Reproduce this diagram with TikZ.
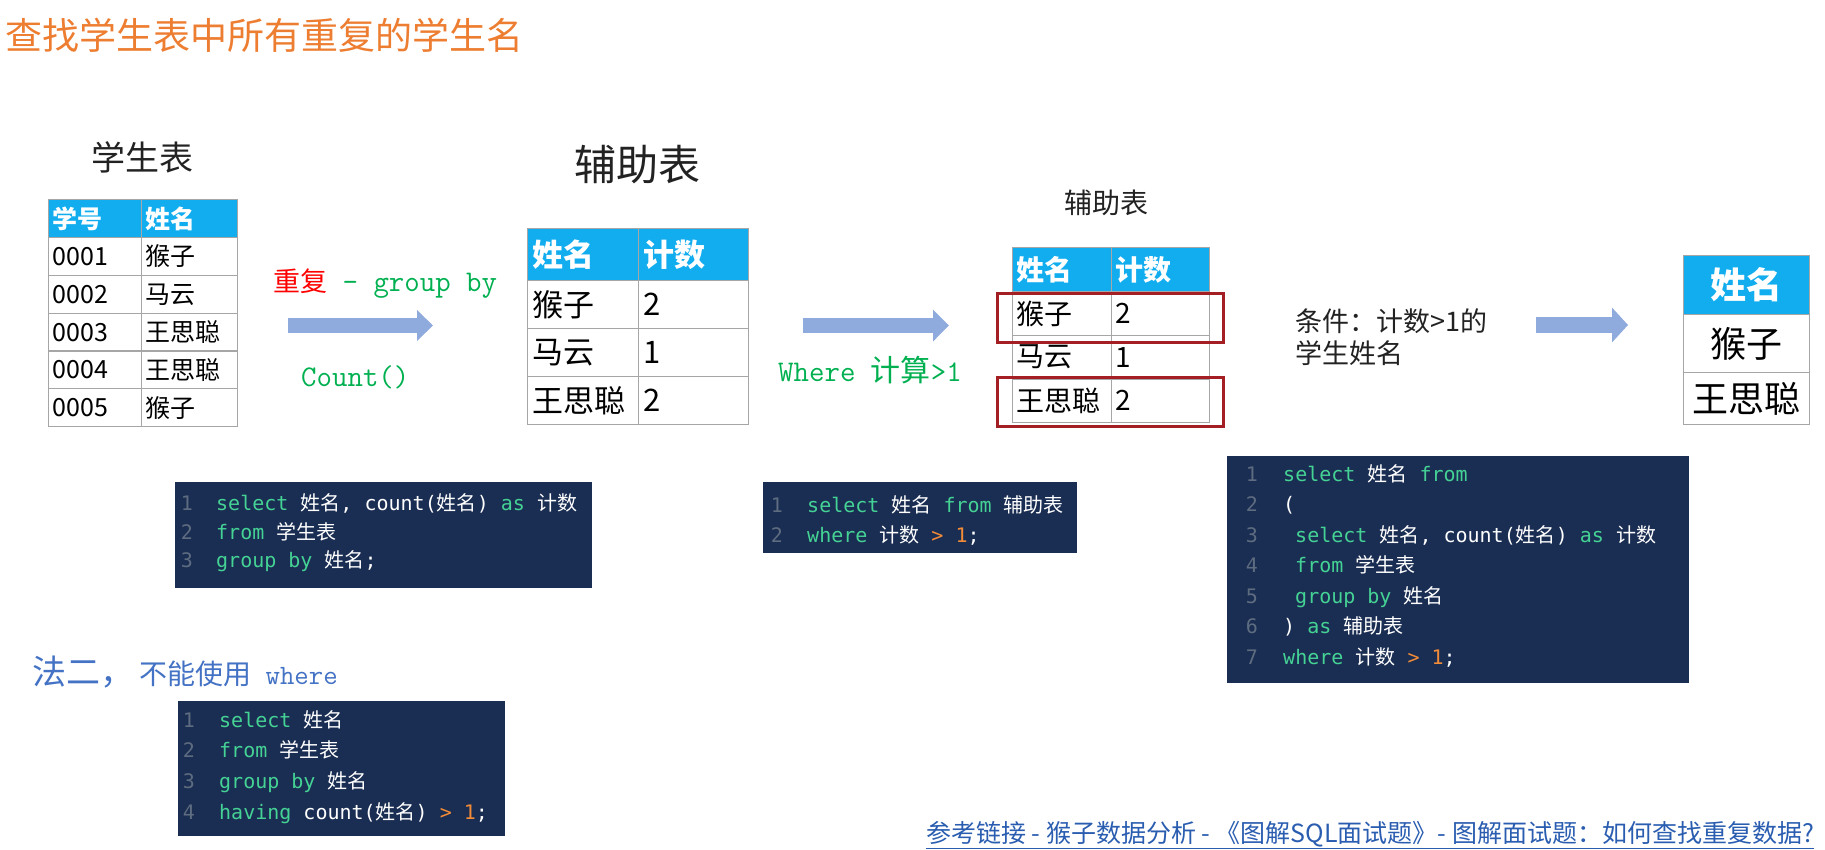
\documentclass[tikz,border=0pt]{standalone}
\usepackage{fontspec}
\setmainfont{Noto Sans CJK SC}
\newfontfamily\cjk{Noto Sans CJK SC}
\newfontfamily\codefont{DejaVu Sans Mono}
\usetikzlibrary{arrows.meta}
\definecolor{titleorange}{HTML}{ED7D31}
\definecolor{hdrblue}{HTML}{11ADEF}
\definecolor{gridgray}{HTML}{A6A6A6}
\definecolor{arrowblue}{HTML}{8FAADC}
\definecolor{hired}{HTML}{A31F24}
\definecolor{codebg}{HTML}{1A2D52}
\definecolor{kwgreen}{HTML}{45D295}
\definecolor{lngray}{HTML}{5E6C80}
\definecolor{oporange}{HTML}{F28C38}
\definecolor{labgreen}{HTML}{00B050}
\definecolor{labred}{HTML}{FF0000}
\definecolor{methblue}{HTML}{4472C4}
\definecolor{linkblue}{HTML}{2A5DB0}
\definecolor{darktext}{HTML}{222222}
\newcommand\fsz[1]{\fontsize{#1}{#1}\selectfont}
\newcommand\kw[1]{\textcolor{kwgreen}{#1}}
\newcommand\cj[1]{{\cjk #1}}
\newcommand\op[1]{\textcolor{oporange}{#1}}
\tikzset{
  hcell/.style={draw=gridgray, line width=1.2pt, fill=hdrblue, text=white, anchor=north west, inner ysep=0pt, align=left},
  bcell/.style={draw=gridgray, line width=1.2pt, fill=white, text=black, anchor=north west, inner ysep=0pt, align=left},
  hilite/.style={draw=hired, line width=2.5pt, anchor=north west, inner sep=0pt},
  flow/.style={draw=arrowblue, line width=15pt, -{Triangle[length=16pt,width=31pt]}},
  codebox/.style={fill=codebg, anchor=north west, inner sep=0pt},
  lnum/.style={text=lngray, anchor=base, inner sep=0pt, font={\codefont\fsz{20}}},
  cline/.style={text=white, anchor=base west, inner sep=0pt, font={\codefont\fsz{20}}},
  tabtitle/.style={text=darktext, anchor=base, inner sep=0pt},
  lab/.style={anchor=base west, inner sep=0pt}
}
\begin{document}
\begin{tikzpicture}[x=1pt,y=-1pt]
\useasboundingbox (0,0) rectangle (1825,849);

% title
\node[lab, text=titleorange, font=\fsz{37}] (title) at (5,49) {查找学生表中所有重复的学生名};

% ---------- table 1 ----------
\node[tabtitle, font=\fsz{34}] (t1title) at (142,170) {学生表};
\begin{scope}[font=\fsz{25}]
\node[hcell, inner xsep=4pt, text width=85pt, minimum height=38pt] (t1h1) at (48,199) {\textbf{学号}};
\node[hcell, inner xsep=4pt, text width=88pt, minimum height=38pt] (t1h2) at (141,199) {\textbf{姓名}};
\node[bcell, inner xsep=4pt, text width=85pt, minimum height=37.8pt] (t1a1) at (48,237) {0001};
\node[bcell, inner xsep=4pt, text width=88pt, minimum height=37.8pt] (t1b1) at (141,237) {猴子};
\node[bcell, inner xsep=4pt, text width=85pt, minimum height=37.8pt] (t1a2) at (48,274.8) {0002};
\node[bcell, inner xsep=4pt, text width=88pt, minimum height=37.8pt] (t1b2) at (141,274.8) {马云};
\node[bcell, inner xsep=4pt, text width=85pt, minimum height=37.8pt] (t1a3) at (48,312.6) {0003};
\node[bcell, inner xsep=4pt, text width=88pt, minimum height=37.8pt] (t1b3) at (141,312.6) {王思聪};
\node[bcell, inner xsep=4pt, text width=85pt, minimum height=37.8pt] (t1a4) at (48,350.4) {0004};
\node[bcell, inner xsep=4pt, text width=88pt, minimum height=37.8pt] (t1b4) at (141,350.4) {王思聪};
\node[bcell, inner xsep=4pt, text width=85pt, minimum height=37.8pt] (t1a5) at (48,388.2) {0005};
\node[bcell, inner xsep=4pt, text width=88pt, minimum height=37.8pt] (t1b5) at (141,388.2) {猴子};
\end{scope}

% arrow 1 and labels
\coordinate (a1s) at (288,325.5);
\coordinate (a1e) at (433,325.5);
\draw[flow, -{Triangle[length=16pt,width=30pt]}] (a1s) -- (a1e);
\node[lab] (lab1) at (273,291) {\textcolor{labred}{\fsz{27}重复}\textcolor{labgreen}{\ttfamily\fsz{30} - group by}};
\node[lab, text=labgreen, font=\ttfamily\fsz{30}] (lab2) at (301,386) {Count()};

% ---------- table 2 ----------
\node[tabtitle, font=\fsz{42}] (t2title) at (637,180) {辅助表};
\begin{scope}[font=\fsz{31}]
\node[hcell, inner xsep=5pt, text width=101pt, minimum height=52pt] (t2h1) at (527,228) {\textbf{姓名}};
\node[hcell, inner xsep=5pt, text width=100pt, minimum height=52pt] (t2h2) at (638,228) {\textbf{计数}};
\node[bcell, inner xsep=5pt, text width=101pt, minimum height=48pt] (t2a1) at (527,280) {猴子};
\node[bcell, inner xsep=5pt, text width=100pt, minimum height=48pt] (t2b1) at (638,280) {2};
\node[bcell, inner xsep=5pt, text width=101pt, minimum height=48pt] (t2a2) at (527,328) {马云};
\node[bcell, inner xsep=5pt, text width=100pt, minimum height=48pt] (t2b2) at (638,328) {1};
\node[bcell, inner xsep=5pt, text width=101pt, minimum height=48pt] (t2a3) at (527,376) {王思聪};
\node[bcell, inner xsep=5pt, text width=100pt, minimum height=48pt] (t2b3) at (638,376) {2};
\end{scope}

% arrow 2 and label
\coordinate (a2s) at (803,325.5);
\coordinate (a2e) at (949,325.5);
\draw[flow] (a2s) -- (a2e);
\node[lab, text=labgreen] (lab3) at (778,381) {{\ttfamily\fsz{30}Where }{\fsz{30}计算}{\ttfamily\fsz{30}>1}};

% ---------- table 3 ----------
\node[tabtitle, font=\fsz{28}] (t3title) at (1106,213) {辅助表};
\begin{scope}[font=\fsz{28}]
\node[hcell, inner xsep=3.5pt, text width=92pt, minimum height=44pt] (t3h1) at (1012,247) {\textbf{姓名}};
\node[hcell, inner xsep=3.5pt, text width=91pt, minimum height=44pt] (t3h2) at (1111,247) {\textbf{计数}};
\node[bcell, inner xsep=3.5pt, text width=92pt, minimum height=43.7pt] (t3a1) at (1012,291) {猴子};
\node[bcell, inner xsep=3.5pt, text width=91pt, minimum height=43.7pt] (t3b1) at (1111,291) {2};
\node[bcell, inner xsep=3.5pt, text width=92pt, minimum height=43.7pt] (t3a2) at (1012,334.7) {马云};
\node[bcell, inner xsep=3.5pt, text width=91pt, minimum height=43.7pt] (t3b2) at (1111,334.7) {1};
\node[bcell, inner xsep=3.5pt, text width=92pt, minimum height=43.7pt] (t3a3) at (1012,378.3) {王思聪};
\node[bcell, inner xsep=3.5pt, text width=91pt, minimum height=43.7pt] (t3b3) at (1111,378.3) {2};
\end{scope}
\node[hilite, minimum width=226pt, minimum height=49pt] (box1) at (996,292) {};
\node[hilite, minimum width=226pt, minimum height=49pt] (box2) at (996,376) {};

% condition text
\node[lab, text=darktext, font=\fsz{27}] (cond1) at (1295,331) {条件：计数>1的};
\node[lab, text=darktext, font=\fsz{27}] (cond2) at (1295,363) {学生姓名};

% arrow 3
\coordinate (a3s) at (1536,325);
\coordinate (a3e) at (1628,325);
\draw[flow, line width=16pt, -{Triangle[length=16pt,width=34pt]}] (a3s) -- (a3e);

% ---------- table 4 ----------
\begin{scope}[font=\fsz{36}]
\node[hcell, inner xsep=4pt, text width=118pt, minimum height=59pt, align=center] (t4h) at (1683,255) {\textbf{姓名}};
\node[bcell, inner xsep=4pt, text width=118pt, minimum height=58pt, align=center] (t4a1) at (1683,314) {猴子};
\node[bcell, inner xsep=4pt, text width=118pt, minimum height=52pt, align=center] (t4a2) at (1683,372) {王思聪};
\end{scope}

% ---------- code block 1 ----------
\node[codebox, minimum width=417pt, minimum height=106pt] (code1) at (175,482) {};
\node[lnum] (c1n1) at (187,510) {1};
\node[cline] (c1l1) at (216,510) {\kw{select} \cj{姓名}, count(\cj{姓名}) \kw{as} \cj{计数}};
\node[lnum] (c1n2) at (187,539) {2};
\node[cline] (c1l2) at (216,539) {\kw{from} \cj{学生表}};
\node[lnum] (c1n3) at (187,567) {3};
\node[cline] (c1l3) at (216,567) {\kw{group by} \cj{姓名};};

% ---------- code block 2 ----------
\node[codebox, minimum width=314pt, minimum height=71pt] (code2) at (763,482) {};
\node[lnum] (c2n1) at (777,512) {1};
\node[cline] (c2l1) at (807,512) {\kw{select} \cj{姓名} \kw{from} \cj{辅助表}};
\node[lnum] (c2n2) at (777,542) {2};
\node[cline] (c2l2) at (807,542) {\kw{where} \cj{计数} \op{>} \op{1};};

% ---------- code block 3 ----------
\node[codebox, minimum width=462pt, minimum height=227pt] (code3) at (1227,456) {};
\node[lnum] (c3n1) at (1252,481) {1};
\node[cline] (c3l1) at (1283,481) {\kw{select} \cj{姓名} \kw{from}};
\node[lnum] (c3n2) at (1252,511.5) {2};
\node[cline] (c3l2) at (1283,511.5) {(};
\node[lnum] (c3n3) at (1252,542) {3};
\node[cline] (c3l3) at (1295,542) {\kw{select} \cj{姓名}, count(\cj{姓名}) \kw{as} \cj{计数}};
\node[lnum] (c3n4) at (1252,572.5) {4};
\node[cline] (c3l4) at (1295,572.5) {\kw{from} \cj{学生表}};
\node[lnum] (c3n5) at (1252,603) {5};
\node[cline] (c3l5) at (1295,603) {\kw{group by} \cj{姓名}};
\node[lnum] (c3n6) at (1252,633.5) {6};
\node[cline] (c3l6) at (1283,633.5) {) \kw{as} \cj{辅助表}};
\node[lnum] (c3n7) at (1252,664) {7};
\node[cline] (c3l7) at (1283,664) {\kw{where} \cj{计数} \op{>} \op{1};};

% ---------- method 2 ----------
\node[lab, text=methblue] (meth2) at (32,684) {{\fsz{34}法二，}\hspace{5pt}{\fsz{28}不能使用}{\ttfamily\fsz{28} where}};
\node[codebox, minimum width=327pt, minimum height=135pt] (code4) at (178,701) {};
\node[lnum] (c4n1) at (189,727) {1};
\node[cline] (c4l1) at (219,727) {\kw{select} \cj{姓名}};
\node[lnum] (c4n2) at (189,757.7) {2};
\node[cline] (c4l2) at (219,757.7) {\kw{from} \cj{学生表}};
\node[lnum] (c4n3) at (189,788.4) {3};
\node[cline] (c4l3) at (219,788.4) {\kw{group by} \cj{姓名}};
\node[lnum] (c4n4) at (189,819.1) {4};
\node[cline] (c4l4) at (219,819.1) {\kw{having} count(\cj{姓名}) \op{>} \op{1};};

% ---------- link ----------
\node[lab, text=linkblue, font=\fsz{25}] (link) at (926,842) {\underline{参考链接 - 猴子数据分析 - 《图解SQL面试题》- 图解面试题：如何查找重复数据?}};
\end{tikzpicture}
\end{document}
